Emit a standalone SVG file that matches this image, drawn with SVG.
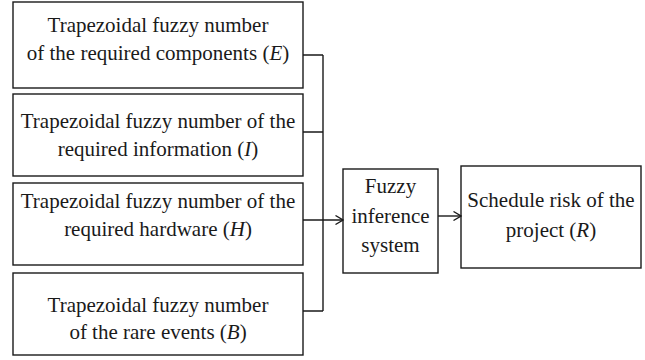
<svg xmlns="http://www.w3.org/2000/svg" width="645" height="360" viewBox="0 0 645 360">
  <style>
    .box { fill: #ffffff; stroke: #1a1a1a; stroke-width: 1.4; }
    .lbl { font-family: "Liberation Serif", "Times New Roman", serif; font-size: 21px; fill: #1a1a1a; text-anchor: middle; }
    .it { font-style: italic; }
    .wire { fill: none; stroke: #1a1a1a; stroke-width: 1.4; }
  </style>
  <defs>
    <marker id="chev" viewBox="0 0 10 10" refX="9.5" refY="5" markerWidth="10" markerHeight="10" markerUnits="userSpaceOnUse" orient="auto">
      <path d="M2,0.5 L9.5,5 L2,9.5" fill="none" stroke="#1a1a1a" stroke-width="1.3"/>
    </marker>
  </defs>

  <rect width="645" height="360" fill="#ffffff"/>

  <g id="input-components">
    <rect class="box" x="13" y="2" width="290" height="86"/>
    <text class="lbl" x="158" y="32">Trapezoidal fuzzy number</text>
    <text class="lbl" x="158" y="60">of the required components (<tspan class="it">E</tspan>)</text>
  </g>

  <g id="input-information">
    <rect class="box" x="13" y="94" width="290" height="82"/>
    <text class="lbl" x="158" y="128">Trapezoidal fuzzy number of the</text>
    <text class="lbl" x="158" y="156">required information (<tspan class="it">I</tspan>)</text>
  </g>

  <g id="input-hardware">
    <rect class="box" x="13" y="183" width="290" height="82"/>
    <text class="lbl" x="158" y="208">Trapezoidal fuzzy number of the</text>
    <text class="lbl" x="158" y="236">required hardware (<tspan class="it">H</tspan>)</text>
  </g>

  <g id="input-rare-events">
    <rect class="box" x="13" y="273" width="290" height="82"/>
    <text class="lbl" x="158" y="312">Trapezoidal fuzzy number</text>
    <text class="lbl" x="158" y="339">of the rare events (<tspan class="it">B</tspan>)</text>
  </g>

  <g id="fuzzy-inference">
    <rect class="box" x="343" y="169" width="95" height="104"/>
    <text class="lbl" x="390.5" y="193">Fuzzy</text>
    <text class="lbl" x="390.5" y="223">inference</text>
    <text class="lbl" x="390.5" y="252">system</text>
  </g>

  <g id="schedule-risk">
    <rect class="box" x="461" y="166" width="180" height="102"/>
    <text class="lbl" x="551" y="207">Schedule risk of the</text>
    <text class="lbl" x="551" y="237">project (<tspan class="it">R</tspan>)</text>
  </g>

  <g id="connectors">
    <path class="wire" d="M303,55 H323 M303,132 H323 M303,311 H323 M323,55 V311"/>
    <path class="wire" d="M303,220 H343" marker-end="url(#chev)"/>
    <path class="wire" d="M438,216 H461" marker-end="url(#chev)"/>
  </g>
</svg>
